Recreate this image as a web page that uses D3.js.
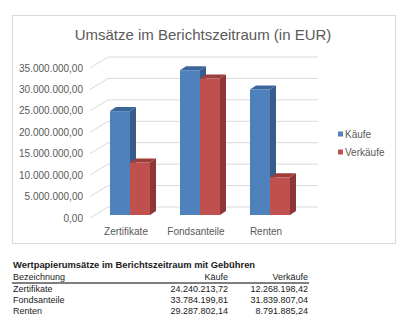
<!DOCTYPE html>
<html><head><meta charset="utf-8">
<script src="https://cdn.jsdelivr.net/npm/d3@7"></script>
<style>body{margin:0;background:#fff}svg{display:block;font-family:"Liberation Sans",Arial,sans-serif}</style>
</head><body><svg id="c" width="407" height="324"></svg>
<script>
const categories = ["Zertifikate", "Fondsanteile", "Renten"];
const seriesNames = ["Käufe", "Verkäufe"];
const kaeufe = [24240213.72, 33784199.81, 29287802.14];
const verkaeufe = [12268198.42, 31839807.04, 8791885.24];
const yTicks = [0, 5000000, 10000000, 15000000, 20000000, 25000000, 30000000, 35000000];
const chartTitle = "Umsätze im Berichtszeitraum (in EUR)";
const tableTitle = "Wertpapierumsätze im Berichtszeitraum mit Gebühren";
const tableHeader = ["Bezeichnung", "Käufe", "Verkäufe"];

const svg = d3.select("#c");
const fmt = v => {
  const s = v.toFixed(2).split(".");
  return s[0].replace(/\B(?=(\d{3})+(?!\d))/g, ".") + "," + s[1];
};

// frame
svg.append("rect").attr("x", 12.5).attr("y", 15.5).attr("width", 383).attr("height", 228)
  .attr("fill", "#fff").attr("stroke", "#D9D9D9");

svg.append("text").attr("x", 203).attr("y", 40).attr("text-anchor", "middle")
  .attr("font-size", 15).attr("fill", "#595959").text(chartTitle);

// scales (front plane)
const x = d3.scaleBand().domain(categories).range([90, 300]);
const y = d3.scaleLinear().domain([0, 35000000]).range([218, 68]);
const wall = {dx: 18, dy: -11};
const barPlane = {dx: 5, dy: -3};
const depth = {dx: 6, dy: -4};
const sub = d3.scaleBand().domain(seriesNames).range([15, 55]);

// gridlines
const g = svg.append("g").attr("stroke", "#D9D9D9").attr("fill", "none");
yTicks.forEach(t => {
  const yy = y(t);
  g.append("path").attr("d",
    `M${x.range()[0]},${yy}L${x.range()[0] + wall.dx},${yy + wall.dy}L${x.range()[1] + wall.dx},${yy + wall.dy}`);
});
svg.append("g").selectAll("text").data(yTicks).join("text")
  .attr("x", 83).attr("y", d => y(d)).attr("dy", "0.35em").attr("text-anchor", "end")
  .attr("font-size", 10).attr("fill", "#595959").text(d => fmt(d));

// bars
const colors = {
  "Käufe": {front: "#4F81BD", side: "#385D8A", top: "#3C6699"},
  "Verkäufe": {front: "#C0504D", side: "#8C3735", top: "#9D3E3B"}
};
const bars = [];
categories.forEach((c, i) => {
  bars.push({cat: c, s: "Käufe", v: kaeufe[i]});
  bars.push({cat: c, s: "Verkäufe", v: verkaeufe[i]});
});
const bg = svg.append("g");
bars.forEach(b => {
  const x0 = x(b.cat) + sub(b.s) + barPlane.dx;
  const x1 = x0 + sub.bandwidth();
  const yt = y(b.v) + barPlane.dy;
  const yb = y(0) + barPlane.dy;
  const c = colors[b.s];
  bg.append("path").attr("fill", c.side).attr("d",
    `M${x1},${yt}L${x1 + depth.dx},${yt + depth.dy}L${x1 + depth.dx},${yb + depth.dy}L${x1},${yb}Z`);
  bg.append("path").attr("fill", c.top).attr("d",
    `M${x0},${yt}L${x0 + depth.dx},${yt + depth.dy}L${x1 + depth.dx},${yt + depth.dy}L${x1},${yt}Z`);
  bg.append("rect").attr("x", x0).attr("y", yt).attr("width", x1 - x0).attr("height", yb - yt)
    .attr("fill", c.front);
});

// category labels
svg.append("g").selectAll("text").data(categories).join("text")
  .attr("x", d => x(d) + x.bandwidth() / 2 + 1).attr("y", 235).attr("text-anchor", "middle")
  .attr("font-size", 10).attr("fill", "#595959").text(d => d);

// legend
const lg = svg.append("g");
seriesNames.forEach((s, i) => {
  const cy = 134 + i * 18;
  lg.append("rect").attr("x", 338).attr("y", cy - 2.5).attr("width", 5).attr("height", 5)
    .attr("fill", colors[s].front);
  lg.append("text").attr("x", 345).attr("y", cy).attr("dy", "0.35em")
    .attr("font-size", 10).attr("fill", "#595959").text(s);
});

// table
const tg = svg.append("g").attr("fill", "#1a1a1a");
tg.append("text").attr("x", 13).attr("y", 268).attr("font-size", 9.4).attr("font-weight", "bold").text(tableTitle);
const colX = [13, 228, 308];
const anchors = ["start", "end", "end"];
tableHeader.forEach((h, j) => {
  tg.append("text").attr("x", colX[j]).attr("y", 280).attr("text-anchor", anchors[j])
    .attr("font-size", 9).text(h);
});
svg.append("line").attr("x1", 12).attr("x2", 309).attr("y1", 283).attr("y2", 283)
  .attr("stroke", "#555").attr("stroke-width", 1.6);
categories.forEach((c, i) => {
  const yy = 292 + i * 10.8;
  const vals = [c, fmt(kaeufe[i]), fmt(verkaeufe[i])];
  vals.forEach((v, j) => {
    tg.append("text").attr("x", colX[j]).attr("y", yy).attr("text-anchor", anchors[j])
      .attr("font-size", 9).text(v);
  });
});
</script></body></html>
